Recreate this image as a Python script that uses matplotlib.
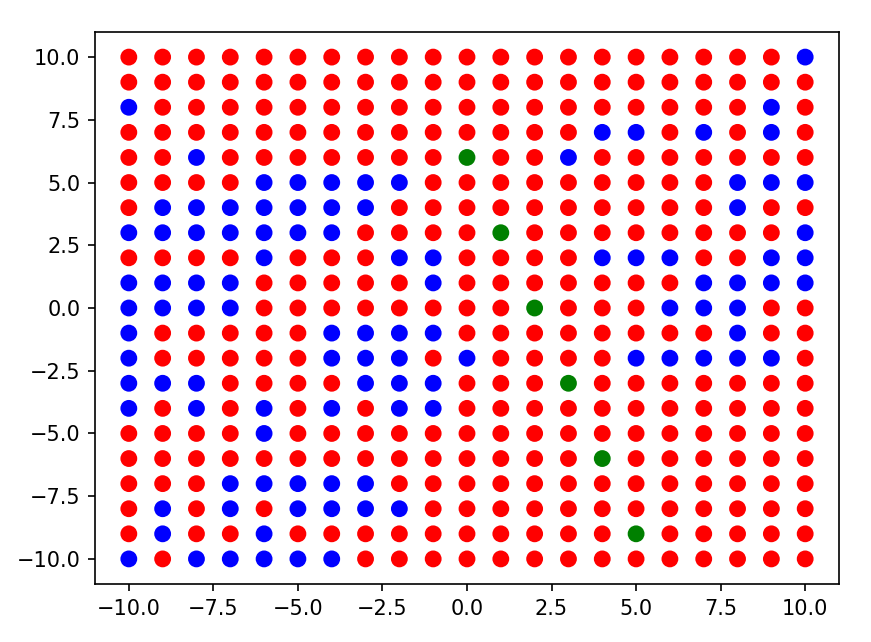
import matplotlib
matplotlib.use("Agg")
import matplotlib.pyplot as plt
import numpy as np

x_values = list(range(-10, 11))
y_values = list(range(10, -11, -1))

# colour code per row (top row y=10 first), one char per x from -10 to 10
row_codes = [
    "rrrrrrrrrrrrrrrrrrrrb",  # 10
    "rrrrrrrrrrrrrrrrrrrrr",  # 9
    "brrrrrrrrrrrrrrrrrrbr",  # 8
    "rrrrrrrrrrrrrrbbrbrbr",  # 7
    "rrbrrrrrrrgrrbrrrrrrr",  # 6
    "rrrrbbbbbrrrrrrrrrbbb",  # 5
    "rbbbbbbbrrrrrrrrrrbrr",  # 4
    "bbbbbbbrrrrgrrrrrrrrb",  # 3
    "rrrrbrrrbbrrrrbbbrrbb",  # 2
    "bbbbrrrrrbrrrrrrrbbbb",  # 1
    "bbbbrrrrrrrrgrrrbbbrr",  # 0
    "brrrrrbbbbrrrrrrrrbrr",  # -1
    "brrrrrbbbrbrrrrbbbbbr",  # -2
    "bbbrrrrbbbrrrgrrrrrrr",  # -3
    "brbrbrbrbbrrrrrrrrrrr",  # -4
    "rrrrbrrrrrrrrrrrrrrrr",  # -5
    "rrrrrrrrrrrrrrgrrrrrr",  # -6
    "rrrbbbbbrrrrrrrrrrrrr",  # -7
    "rbrbrbbbbrrrrrrrrrrrr",  # -8
    "rbrrbrrrrrrrrrrgrrrrr",  # -9
    "brbbbbbrrrrrrrrrrrrrr",  # -10
]

color_map = {"r": "red", "b": "blue", "g": "green"}

xs, ys, cs = [], [], []
for y, code in zip(y_values, row_codes):
    for x, c in zip(x_values, code):
        xs.append(x)
        ys.append(y)
        cs.append(color_map[c])

W, H, DPI = 871, 642, 150
fig = plt.figure(figsize=(W / DPI, H / DPI), dpi=DPI)
ax = fig.add_axes([95 / W, (H - 584) / H, (839 - 95) / W, (584 - 32) / H])
ax.scatter(xs, ys, c=cs, s=50)
ax.set_xticks([-10, -7.5, -5, -2.5, 0, 2.5, 5, 7.5, 10])
ax.set_yticks([-10, -7.5, -5, -2.5, 0, 2.5, 5, 7.5, 10])
fig.savefig("out.png", dpi=DPI)
